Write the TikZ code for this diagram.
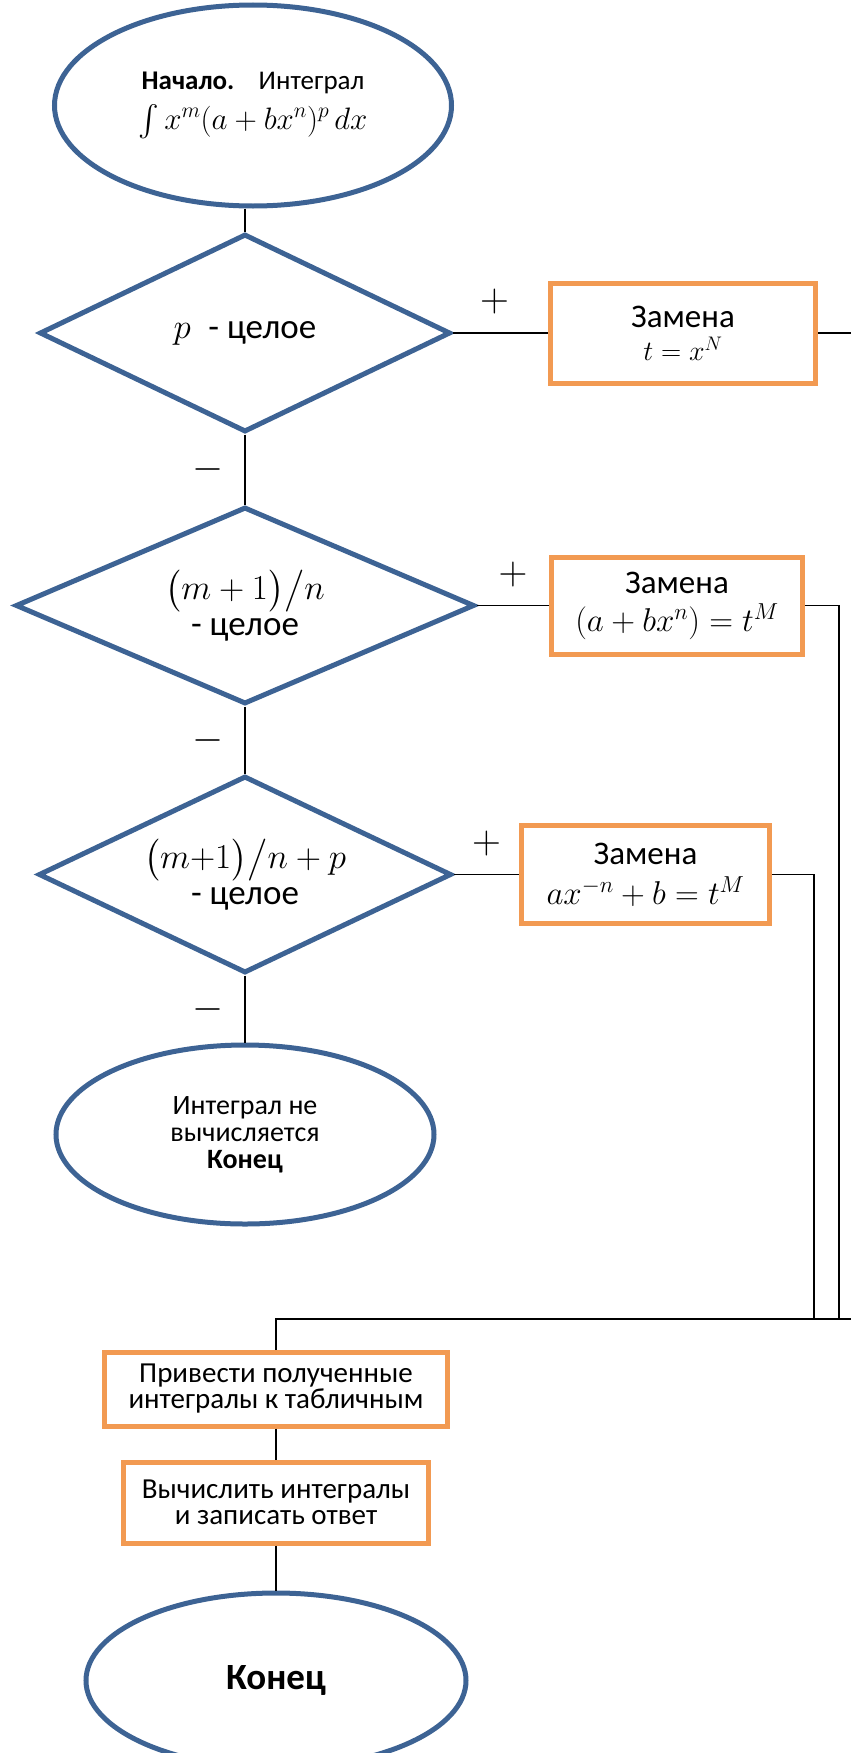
\RequirePackage{fix-cm}
\documentclass[tikz,border=0pt]{standalone}
\usepackage{amsmath}
\usepackage[no-math]{fontspec}
\setmainfont{Carlito}
\DeclareFontShape{OMX}{cmex}{m}{n}{<->cmex10}{}
\usetikzlibrary{positioning, shapes.geometric}
\definecolor{flowBlue}{HTML}{3D6394}
\definecolor{flowOrange}{HTML}{F29A52}

\begin{document}
\begin{tikzpicture}[
  x=1pt, y=-1pt,
  term/.style={
    ellipse, draw=flowBlue, line width=5pt, inner sep=0pt,
    align=center, font=\fontsize{28}{27}\selectfont,
  },
  cond/.style={
    diamond, aspect=2, draw=flowBlue, line width=5pt, inner sep=0pt,
    align=center, font=\fontsize{35}{34}\selectfont,
  },
  subst/.style={
    rectangle, draw=flowOrange, line width=5pt, inner sep=0pt,
    align=center, font=\fontsize{33}{33}\selectfont,
  },
  action/.style={subst, font=\fontsize{29}{26}\selectfont},
  conn/.style={line width=1.6pt, color=black},
  sign/.style={inner sep=0pt, font=\fontsize{40}{40}\selectfont},
]

\useasboundingbox (0,0) rectangle (851,1753);

% Conditions
\node[cond, minimum width=411pt, minimum height=198pt] (d1) at (245,333) {$p$\hspace{0.5em}- целое};
\node[cond, minimum width=459pt, minimum height=197pt, below=70pt of d1] (d2)
  {$\bigl(m+1\bigr)\big/n$\\[2pt]- целое};
\node[cond, minimum width=413pt, minimum height=197pt, below=67pt of d2] (d3)
  {$\bigl(m{+}1\bigr)\big/n+p$\\[2pt]- целое};

% Start and dead end
\node[term, minimum width=397pt, minimum height=201pt, above=23pt of d1, xshift=8pt] (start)
  {\fontsize{27}{24}\selectfont\textbf{Начало.}\hspace{0.9em}Интеграл\\[9pt]{\fontsize{31}{31}\selectfont$\int x^m(a+bx^n)^p\,dx$}};
\node[term, minimum width=378pt, minimum height=179pt, below=67pt of d3] (stop1)
  {Интеграл не\\вычисляется\\\textbf{Конец}};

% Substitutions
\node[subst, minimum width=265pt, minimum height=100pt, right=95pt of d1] (b1)
  {Замена\\{\fontsize{28}{28}\selectfont$t = x^N$}};
\node[subst, minimum width=251pt, minimum height=97pt, right=72pt of d2] (b2)
  {Замена\\[5pt]{\fontsize{33}{33}\selectfont$(a+bx^n) = t^M$}};
\node[subst, minimum width=248pt, minimum height=98pt, right=65pt of d3] (b3)
  {Замена\\[7pt]{\fontsize{33}{33}\selectfont$ax^{-n}+b = t^M$}};

% Final steps
\node[action, minimum width=343pt, minimum height=74pt] (b4) at (276,1389)
  {Привести полученные\\интегралы к табличным};
\node[action, minimum width=305pt, minimum height=81pt, below=31pt of b4] (b5)
  {Вычислить интегралы\\и записать ответ};
\node[term, minimum width=380pt, minimum height=175pt, below=45pt of b5,
  font=\fontsize{37}{37}\selectfont] (stop2) {\textbf{Конец}};

% Junction points
\coordinate (join) at (276,1319);
\coordinate (rim) at (851,1319);
\coordinate (v2) at (839,1319);
\coordinate (v3) at (814,1319);

% Connectors
\draw[conn] (start.south -| d1.north) -- (d1.north);
\draw[conn] (d1.south) -- node[sign, left=21pt] {$-$} (d2.north);
\draw[conn] (d2.south) -- node[sign, left=21pt] {$-$} (d3.north);
\draw[conn] (d3.south) -- node[sign, left=21pt] {$-$} (stop1.north);
\draw[conn] (d1.east) -- node[sign, above=18pt, xshift=-6pt] {$+$} (b1.west);
\draw[conn] (d2.east) -- node[sign, above=18pt] {$+$} (b2.west);
\draw[conn] (d3.east) -- node[sign, above=18pt] {$+$} (b3.west);
\draw[conn] (b1.east) -- (b1.east -| rim);
\draw[conn] (b2.east) -| (v2);
\draw[conn] (b3.east) -| (v3);
\draw[conn] (rim) -- (join) -- (b4.north);
\draw[conn] (b4) -- (b5);
\draw[conn] (b5) -- (stop2);

\end{tikzpicture}
\end{document}
